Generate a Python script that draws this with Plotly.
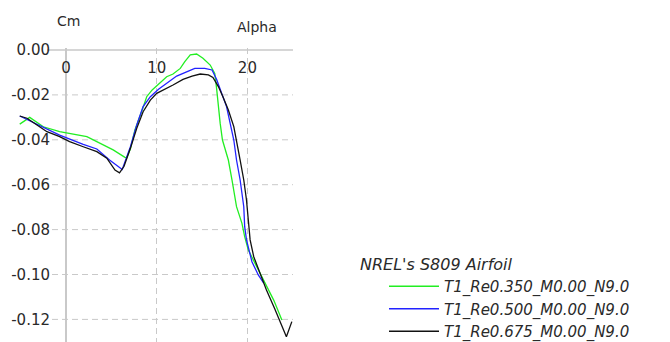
import plotly.graph_objects as go

# ---------------- data ----------------
alpha_re0350 = [-5.1, -4.0, -2.5, -0.7, 2.3, 3.8, 5.2, 6.5, 6.7, 7.1, 7.6, 8.4, 8.9, 9.5,
                10.4, 11.1, 11.8, 12.6, 13.1, 13.7, 14.4, 15.1, 15.9, 16.4, 16.6, 16.8,
                17.0, 17.25, 17.9, 18.3, 18.8, 19.4, 19.7, 20.1, 21.0, 21.9, 22.9, 23.8]
cm_re0350 = [-0.0330, -0.0300, -0.0342, -0.0364, -0.0386, -0.0416, -0.0445, -0.0478, -0.0480,
             -0.0440, -0.0356, -0.0267, -0.0208, -0.0178, -0.0146, -0.0119, -0.0107, -0.0082,
             -0.0052, -0.0022, -0.0018, -0.0037, -0.0067, -0.0104, -0.0170, -0.0252, -0.0327,
             -0.0401, -0.0490, -0.0579, -0.0698, -0.0772, -0.0831, -0.0891, -0.0965, -0.1039,
             -0.1114, -0.1203]

alpha_re0500 = [-5.1, -3.2, -0.7, 1.9, 3.4, 4.8, 6.2, 7.1, 7.8, 8.5, 9.3, 10.2, 11.3, 12.2,
                13.3, 14.2, 15.3, 16.1, 16.6, 17.2, 17.7, 18.1, 18.5, 18.8, 19.2, 19.6, 19.7,
                19.9, 20.5, 21.2, 21.8]
cm_re0500 = [-0.0294, -0.0330, -0.0379, -0.0420, -0.0441, -0.0490, -0.0532, -0.0431, -0.0334,
             -0.0252, -0.0208, -0.0175, -0.0141, -0.0116, -0.0097, -0.0082, -0.0082, -0.0089,
             -0.0130, -0.0193, -0.0252, -0.0327, -0.0401, -0.0490, -0.0579, -0.0698, -0.0787,
             -0.0846, -0.0943, -0.1002, -0.1039]

alpha_re0675 = [-5.1, -4.3, -3.2, -2.1, -0.7, 0.4, 1.9, 3.4, 4.5, 5.4, 5.9, 6.4, 7.1, 7.8, 8.5,
                9.3, 10.0, 10.9, 11.8, 12.9, 13.9, 14.8, 15.7, 16.2, 16.8, 17.3, 17.9, 18.5,
                18.8, 19.2, 19.6, 19.9, 20.1, 20.3, 20.7, 21.4, 22.1, 23.0, 23.8, 24.3, 24.9]
cm_re0675 = [-0.0294, -0.0304, -0.0334, -0.0364, -0.0386, -0.0408, -0.0431, -0.0453, -0.0482,
             -0.0535, -0.0547, -0.0518, -0.0438, -0.0349, -0.0275, -0.0223, -0.0193, -0.0175,
             -0.0156, -0.0131, -0.0116, -0.0107, -0.0111, -0.0122, -0.0163, -0.0208, -0.0267,
             -0.0341, -0.0401, -0.0490, -0.0579, -0.0668, -0.0757, -0.0846, -0.0921, -0.0995,
             -0.1069, -0.1151, -0.1225, -0.1277, -0.1210]

series_names = ["T1_Re0.350_M0.00_N9.0", "T1_Re0.500_M0.00_N9.0", "T1_Re0.675_M0.00_N9.0"]
series_colors = ["#22ee22", "#2222ff", "#111111"]

x_tickvals = [0, 10, 20]
x_ticktext = ["0", "10", "20"]
y_tickvals = [0.0, -0.02, -0.04, -0.06, -0.08, -0.10, -0.12]
y_ticktext = ["0.00", "-0.02", "-0.04", "-0.06", "-0.08", "-0.10", "-0.12"]

legend_title = "NREL's S809 Airfoil"
x_title = "Alpha"
y_title = "Cm"

# ---------------- figure ----------------
W, H = 670, 342
FONT = "DejaVu Sans"
TXT = "#2a2a2a"
GRID = "#c9c9c9"

fig = go.Figure()
for a, c, n, col in zip([alpha_re0350, alpha_re0500, alpha_re0675],
                        [cm_re0350, cm_re0500, cm_re0675],
                        series_names, series_colors):
    fig.add_trace(go.Scatter(x=a, y=c, mode="lines", name=n,
                             line=dict(color=col, width=1.3)))

# axis geometry (pixel frame of the reference)
X0_PX, X_PER_DEG = 66, 9.07
Y0_PX, Y_PER_UNIT = 50, 2245.0
x_lo, x_hi = (0 - X0_PX) / X_PER_DEG, (293 - X0_PX) / X_PER_DEG
top_px = 48
y_hi = (Y0_PX - top_px) / Y_PER_UNIT
y_lo = -(H - Y0_PX) / Y_PER_UNIT
grid_start = (52 - X0_PX) / X_PER_DEG
axis_start = (47 - X0_PX) / X_PER_DEG

# horizontal grid lines start to the right of the tick labels
shapes = []
for v in y_tickvals:
    if v == 0:
        shapes.append(dict(type="line", layer="below", xref="x", yref="y",
                           x0=axis_start, x1=x_hi, y0=v, y1=v,
                           line=dict(color=GRID, width=1.5)))
    else:
        shapes.append(dict(type="line", layer="below", xref="x", yref="y",
                           x0=grid_start, x1=x_hi, y0=v, y1=v,
                           line=dict(color=GRID, width=1, dash="6px,4px")))

fig.update_layout(
    width=W, height=H,
    margin=dict(l=0, r=0, t=0, b=0, autoexpand=False),
    paper_bgcolor="white", plot_bgcolor="white",
    font=dict(family=FONT, size=15, color=TXT),
    showlegend=True,
    legend=dict(x=384 / W, y=1 - 270 / H, xanchor="left", yanchor="top",
                bgcolor="rgba(0,0,0,0)", itemwidth=50,
                font=dict(family=FONT, size=15, color=TXT, style="italic"),
                tracegroupgap=0),
    xaxis=dict(domain=[0, 293 / W], range=[x_lo, x_hi], side="bottom",
               anchor="free", position=1 - 57 / H,
               tickvals=x_tickvals, ticktext=x_ticktext, ticks="",
               showgrid=True, gridcolor=GRID, griddash="6px,4px", gridwidth=1,
               zeroline=True, zerolinecolor=GRID, zerolinewidth=1.5,
               showline=False, tickfont=dict(size=15, color=TXT)),
    yaxis=dict(domain=[0, 1 - top_px / H], range=[y_lo, y_hi], anchor="free",
               position=50 / W,
               tickvals=y_tickvals, ticktext=y_ticktext, ticks="",
               showgrid=False, zeroline=False,
               showline=False, tickfont=dict(size=15, color=TXT)),
    shapes=shapes,
    annotations=[
        dict(text=y_title, x=68 / W, y=1 - 21 / H, xref="paper", yref="paper",
             xanchor="center", yanchor="middle", showarrow=False,
             font=dict(family=FONT, size=14, color=TXT)),
        dict(text=x_title, x=257 / W, y=1 - 27 / H, xref="paper", yref="paper",
             xanchor="center", yanchor="middle", showarrow=False,
             font=dict(family=FONT, size=14, color=TXT)),
        dict(text=legend_title, x=358 / W, y=1 - 264 / H, xref="paper", yref="paper",
             xanchor="left", yanchor="middle", showarrow=False,
             font=dict(family=FONT, size=16, color=TXT, style="italic")),
    ],
)

fig.write_html("out.html")
